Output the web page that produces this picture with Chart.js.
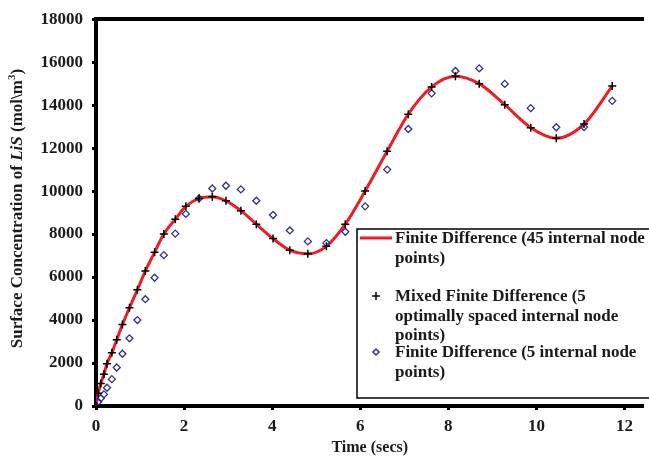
<!DOCTYPE html>
<html>
<head>
<meta charset="utf-8">
<script src="https://cdn.jsdelivr.net/npm/chart.js@4.4.1/dist/chart.umd.min.js"></script>
<style>
  html, body { margin: 0; padding: 0; background: #fff; }
  #wrap { width: 649px; height: 457px; }
</style>
</head>
<body>
<div id="wrap"><canvas id="lisChart" width="649" height="457"></canvas></div>
<script>
// データ
const timeSecs = [0, 0.05, 0.11, 0.18, 0.25, 0.36, 0.47, 0.60, 0.76, 0.94, 1.12, 1.33, 1.54, 1.80, 2.04, 2.34, 2.64, 2.95, 3.29, 3.64,
  4.02, 4.40, 4.81, 5.23, 5.66, 6.11, 6.61, 7.09, 7.62, 8.16, 8.70, 9.28, 9.87, 10.45, 11.08, 11.72];
const fd45Conc = [0, 590, 1050, 1480, 1970, 2480, 3080, 3790, 4570, 5410, 6280, 7150, 8000, 8690, 9290, 9660, 9740, 9550, 9090, 8460,
  7790, 7250, 7080, 7430, 8460, 10000, 11850, 13580, 14850, 15350, 15000, 14020, 12950, 12460, 13120, 14890];
const mixedFd5Conc = [0, 590, 1050, 1480, 1970, 2480, 3080, 3790, 4570, 5410, 6280, 7150, 8000, 8690, 9290, 9660, 9740, 9550, 9090, 8460,
  7790, 7250, 7080, 7430, 8460, 10000, 11850, 13580, 14850, 15350, 15000, 14020, 12950, 12460, 13120, 14890];
const fd5Conc = [0, 200, 360, 540, 850, 1250, 1790, 2430, 3150, 4000, 4970, 5970, 7020, 8020, 8940, 9660, 10120, 10250, 10080, 9550,
  8890, 8170, 7660, 7580, 8110, 9290, 11000, 12890, 14550, 15590, 15710, 14990, 13860, 12970, 12980, 14200];
const xTickValues = [0, 2, 4, 6, 8, 10, 12];
const seriesNames = [
  ['Finite Difference (45 internal node', 'points)'],
  ['Mixed Finite Difference (5', 'optimally spaced internal node', 'points)'],
  ['Finite Difference (5 internal node', 'points)']
];

const toXY = (ys) => timeSecs.map((t, i) => ({ x: t, y: ys[i] }));

const serif = '"Liberation Serif", "Times New Roman", serif';
const tickFont = { family: serif, size: 17, weight: 'bold' };
const redColor = '#ee1c23';
const blueColor = '#2e3192';

// y軸タイトル（LiS だけ斜体、m³ は上付き）
const yTitlePlugin = {
  id: 'yTitle',
  afterDraw(c) {
    const ctx = c.ctx;
    const parts = [
      { t: 'Surface Concentration of ', f: 'bold 17px ' + serif },
      { t: 'LiS', f: 'italic bold 17px ' + serif },
      { t: ' (mol\\m', f: 'bold 17px ' + serif },
      { t: '3', f: 'bold 11px ' + serif, sup: true },
      { t: ')', f: 'bold 17px ' + serif }
    ];
    let total = 0;
    parts.forEach(p => { ctx.font = p.f; p.w = ctx.measureText(p.t).width; total += p.w; });
    const cy = (c.chartArea.top + c.chartArea.bottom) / 2 - 4;
    ctx.save();
    ctx.translate(18, cy);
    ctx.rotate(-Math.PI / 2);
    ctx.fillStyle = '#1a1a1a';
    ctx.textBaseline = 'middle';
    let x = -total / 2;
    parts.forEach(p => {
      ctx.font = p.f;
      ctx.fillText(p.t, x, p.sup ? -6 : 0);
      x += p.w;
    });
    ctx.restore();
  }
};

// 凡例（折り返しありの枠付き）
const legendPlugin = {
  id: 'boxLegend',
  afterDraw(c) {
    const ctx = c.ctx;
    ctx.save();
    ctx.fillStyle = '#fff';
    ctx.fillRect(357, 229, 300, 169);
    ctx.strokeStyle = '#000';
    ctx.lineWidth = 1.5;
    ctx.strokeRect(357, 229, 300, 169);

    // 記号
    ctx.strokeStyle = redColor;
    ctx.lineWidth = 3;
    ctx.beginPath(); ctx.moveTo(360, 238); ctx.lineTo(392, 238); ctx.stroke();

    ctx.strokeStyle = '#000';
    ctx.lineWidth = 1.5;
    ctx.beginPath();
    ctx.moveTo(372, 296); ctx.lineTo(380, 296);
    ctx.moveTo(376, 292); ctx.lineTo(376, 300);
    ctx.stroke();

    ctx.strokeStyle = blueColor;
    ctx.beginPath();
    ctx.moveTo(376, 349); ctx.lineTo(379, 352); ctx.lineTo(376, 355); ctx.lineTo(373, 352); ctx.closePath();
    ctx.stroke();

    // テキスト
    ctx.fillStyle = '#1a1a1a';
    ctx.font = 'bold 17px ' + serif;
    ctx.textBaseline = 'middle';
    const rows = [[239, 259], [297, 317, 336], [353, 373]];
    seriesNames.forEach((lines, i) => {
      lines.forEach((s, j) => ctx.fillText(s, 395, rows[i][j]));
    });
    ctx.restore();
  }
};

const chart = new Chart(document.getElementById('lisChart').getContext('2d'), {
  type: 'scatter',
  data: {
    datasets: [
      {
        type: 'line',
        label: seriesNames[0].join(' '),
        data: toXY(fd45Conc),
        borderColor: redColor,
        borderWidth: 3,
        pointRadius: 0,
        cubicInterpolationMode: 'monotone',
        fill: false,
        order: 3
      },
      {
        label: seriesNames[1].join(' '),
        data: toXY(mixedFd5Conc),
        pointStyle: 'cross',
        pointRadius: 4,
        borderColor: '#000',
        borderWidth: 1.5,
        order: 1
      },
      {
        label: seriesNames[2].join(' '),
        data: toXY(fd5Conc),
        pointStyle: 'rectRot',
        pointRadius: 3.5,
        borderColor: blueColor,
        backgroundColor: 'rgba(0,0,0,0)',
        borderWidth: 1.3,
        order: 2
      }
    ]
  },
  options: {
    responsive: false,
    animation: false,
    devicePixelRatio: 1,
    layout: { padding: 0 },
    plugins: {
      legend: { display: false },
      tooltip: { enabled: false }
    },
    scales: {
      x: {
        type: 'linear',
        min: 0,
        max: 12.43,
        afterBuildTicks: (s) => { s.ticks = xTickValues.map(v => ({ value: v })); },
        afterFit: (s) => { s.height = 51; },
        border: { color: '#000', width: 4 },
        grid: { drawOnChartArea: false, color: '#000', tickLength: 4, tickWidth: 3 },
        ticks: { color: '#1a1a1a', font: tickFont, padding: 6, maxRotation: 0 },
        title: { display: true, text: 'Time (secs)', color: '#1a1a1a', font: { family: serif, size: 16, weight: 'bold' }, padding: { top: 0, bottom: 0 } }
      },
      x2: {
        type: 'linear',
        position: 'top',
        min: 0,
        max: 12.43,
        afterFit: (s) => { s.height = 16; },
        border: { color: '#000', width: 4 },
        grid: { display: true, drawOnChartArea: false, drawTicks: false },
        ticks: { display: false }
      },
      y: {
        min: 0,
        max: 18000,
        afterFit: (s) => { s.width = 96; },
        border: { color: '#000', width: 4 },
        grid: { drawOnChartArea: false, color: '#000', tickLength: 4, tickWidth: 3 },
        ticks: { stepSize: 2000, color: '#1a1a1a', font: tickFont, padding: 9, callback: (v) => String(v) }
      }
    }
  },
  plugins: [yTitlePlugin, legendPlugin]
});
</script>
</body>
</html>
